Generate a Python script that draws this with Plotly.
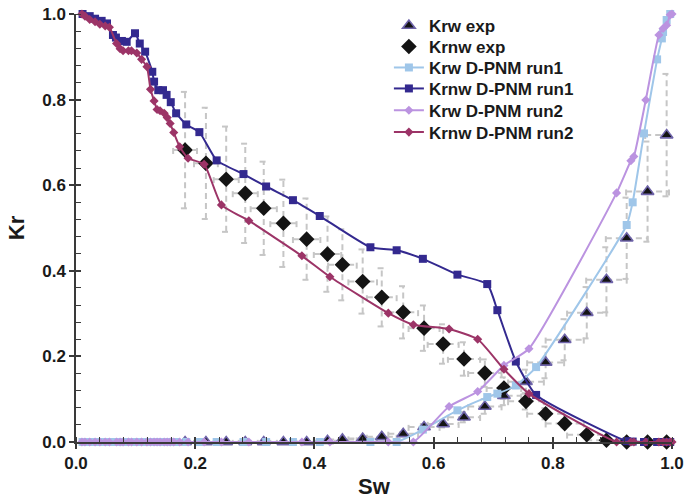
import plotly.graph_objects as go

# ---------------- data ----------------
sw_exp = [0.183, 0.218, 0.252, 0.284, 0.315, 0.348, 0.387, 0.422, 0.447, 0.481, 0.513, 0.549, 0.584,
          0.616, 0.651, 0.686, 0.718, 0.755, 0.788, 0.820, 0.857, 0.890, 0.924, 0.959, 0.991]
krw_exp = [0.0, 0.0, 0.0, 0.0, 0.0, 0.0, 0.0, 0.003, 0.006, 0.008, 0.012, 0.019, 0.035,
           0.042, 0.058, 0.083, 0.108, 0.141, 0.186, 0.239, 0.302, 0.379, 0.476, 0.585, 0.717]
krnw_exp = [0.682, 0.651, 0.614, 0.581, 0.546, 0.511, 0.474, 0.439, 0.414, 0.375, 0.338, 0.303, 0.266,
            0.229, 0.194, 0.161, 0.126, 0.095, 0.066, 0.043, 0.017, 0.004, 0.0, 0.0, 0.0]
# vertical (Kr) and horizontal (Sw) half-widths of the experimental error bars
krw_exp_err = [0.0, 0.0, 0.0, 0.0, 0.0, 0.0, 0.0, 0.001, 0.001, 0.002, 0.002, 0.004, 0.007,
               0.008, 0.012, 0.017, 0.022, 0.028, 0.037, 0.048, 0.060, 0.076, 0.095, 0.117, 0.143]
krnw_exp_err = [0.136, 0.130, 0.123, 0.116, 0.109, 0.102, 0.095, 0.088, 0.083, 0.075, 0.068, 0.061, 0.053,
                0.046, 0.039, 0.032, 0.025, 0.019, 0.013, 0.009, 0.003, 0.001, 0.0, 0.0, 0.0]
sw_exp_err = [0.020, 0.020, 0.021, 0.021, 0.022, 0.022, 0.023, 0.023, 0.024, 0.024, 0.025, 0.025, 0.026,
              0.026, 0.027, 0.028, 0.029, 0.030, 0.031, 0.032, 0.033, 0.034, 0.035, 0.036, 0.036]

sw_run1 = [0.011, 0.023, 0.032, 0.043, 0.052, 0.062, 0.067, 0.077, 0.085, 0.099, 0.107, 0.116, 0.128,
           0.131, 0.138, 0.146, 0.152, 0.159, 0.168, 0.185, 0.207, 0.236, 0.281, 0.319, 0.364, 0.409,
           0.494, 0.538, 0.582, 0.640, 0.690, 0.707, 0.738, 0.772, 0.924, 0.934, 0.953, 0.975, 0.983,
           0.985, 0.991, 0.997]
krnw_run1 = [1.0, 0.995, 0.989, 0.984, 0.978, 0.951, 0.945, 0.937, 0.935, 0.955, 0.931, 0.912, 0.865,
             0.842, 0.822, 0.822, 0.811, 0.794, 0.768, 0.742, 0.724, 0.658, 0.626, 0.597, 0.565, 0.528,
             0.455, 0.448, 0.428, 0.391, 0.369, 0.308, 0.188, 0.110, 0.002, 0.001, 0.0, 0.0, 0.0,
             0.0, 0.0, 0.0]
krw_run1 = [0.0] * 28 + [0.029, 0.074, 0.105, 0.113, 0.132, 0.175, 0.507, 0.560, 0.721, 0.894, 0.943,
                         0.958, 0.986, 1.0]

sw_run2 = [0.010, 0.015, 0.023, 0.032, 0.040, 0.049, 0.056, 0.068, 0.074, 0.079, 0.088, 0.093, 0.102,
           0.110, 0.119, 0.125, 0.131, 0.136, 0.141, 0.148, 0.153, 0.158, 0.164, 0.174, 0.188, 0.215,
           0.244, 0.290, 0.379, 0.426, 0.524, 0.566, 0.626, 0.674, 0.718, 0.760, 0.907, 0.931, 0.936,
           0.956, 0.978, 0.985, 0.991, 0.997, 1.0]
krnw_run2 = [1.0, 0.995, 0.987, 0.982, 0.976, 0.972, 0.969, 0.931, 0.919, 0.914, 0.914, 0.914, 0.909,
             0.894, 0.877, 0.824, 0.797, 0.777, 0.774, 0.768, 0.758, 0.744, 0.723, 0.690, 0.663, 0.649,
             0.554, 0.517, 0.435, 0.386, 0.301, 0.274, 0.264, 0.240, 0.170, 0.113, 0.0, 0.0, 0.0,
             0.0, 0.0, 0.0, 0.0, 0.0, 0.0]
krw_run2 = [0.0] * 32 + [0.083, 0.118, 0.179, 0.218, 0.582, 0.657, 0.667, 0.799, 0.951, 0.966,
                         0.974, 0.998, 1.0]

x_ticks = [0.0, 0.2, 0.4, 0.6, 0.8, 1.0]
y_ticks = [0.0, 0.2, 0.4, 0.6, 0.8, 1.0]

# ---------------- styles ----------------
FONT = "Liberation Sans, Arial, Helvetica, sans-serif"
C_LB = "#9fc6e9"
C_DB = "#33298f"
C_LAV = "#bb93e0"
C_MAR = "#9c3467"
C_TRI_EDGE = "#6f64aa"
C_ERR = "#c6c6c6"
CAP_W = 0.007
CAP_H = 0.009
LEG_X = 0.525
LEG_Y = [0.972, 0.923, 0.874, 0.825, 0.774, 0.723]
LEG_IDS = ["legend", "legend2", "legend3", "legend4", "legend5", "legend6"]


def err_segments(xs, ys, exs, eys):
    X, Y = [], []
    for x, y, ex, ey in zip(xs, ys, exs, eys):
        if ey > 0.002:
            X += [x, x, None, x - CAP_W, x + CAP_W, None, x - CAP_W, x + CAP_W, None]
            Y += [y - ey, y + ey, None, y - ey, y - ey, None, y + ey, y + ey, None]
        X += [x - ex, x + ex, None, x - ex, x - ex, None, x + ex, x + ex, None]
        Y += [y, y, None, y - CAP_H, y + CAP_H, None, y - CAP_H, y + CAP_H, None]
    return X, Y


fig = go.Figure()

for ys, eys in [(krw_exp, krw_exp_err), (krnw_exp, krnw_exp_err)]:
    ex, ey = err_segments(sw_exp, ys, sw_exp_err, eys)
    fig.add_trace(go.Scatter(x=ex, y=ey, mode="lines", showlegend=False, hoverinfo="skip",
                             line=dict(color=C_ERR, width=2, dash="6px,4px")))

fig.add_trace(go.Scatter(x=sw_exp, y=krw_exp, mode="markers", name="Krw exp", legend=LEG_IDS[0],
                         cliponaxis=False,
                         marker=dict(symbol="triangle-up", size=11, color="#141414",
                                     line=dict(color=C_TRI_EDGE, width=1.6))))
fig.add_trace(go.Scatter(x=sw_exp, y=krnw_exp, mode="markers", name="Krnw exp", legend=LEG_IDS[1],
                         cliponaxis=False,
                         marker=dict(symbol="diamond", size=12, color="#141414")))

runs = [
    (sw_run1, krw_run1, "Krw D-PNM run1", C_LB, "square", 8, 2),
    (sw_run1, krnw_run1, "Krnw D-PNM run1", C_DB, "square", 8, 3),
    (sw_run2, krw_run2, "Krw D-PNM run2", C_LAV, "diamond", 7, 4),
    (sw_run2, krnw_run2, "Krnw D-PNM run2", C_MAR, "diamond", 7, 5),
]
for xs, ys, name, col, sym, sz, li in runs:
    fig.add_trace(go.Scatter(x=xs, y=ys, mode="lines+markers", name=name, legend=LEG_IDS[li],
                             cliponaxis=False,
                             line=dict(color=col, width=2, shape="spline", smoothing=0.5),
                             marker=dict(symbol=sym, size=sz, color=col)))

axis_common = dict(
    range=[0, 1], showgrid=False, zeroline=False, showline=True, linecolor="#3a3a3a", linewidth=1.5,
    ticks="outside", ticklen=5, tickwidth=1.5, tickcolor="#3a3a3a", tickformat=".1f",
    automargin=False,
    tickfont=dict(family=FONT, size=17, color="#1a1a1a", weight="bold"),
    minor=dict(ticks="inside", dtick=0.04, ticklen=5, tickwidth=1.2, tickcolor="#3a3a3a"),
)

legend_layouts = {}
for lid, ly in zip(LEG_IDS, LEG_Y):
    legend_layouts[lid] = dict(x=LEG_X, y=ly, xanchor="left", yanchor="middle",
                               bgcolor="rgba(0,0,0,0)", borderwidth=0,
                               font=dict(family=FONT, size=17, color="#1a1a1a", weight="bold"))

fig.update_layout(
    width=684, height=502,
    margin=dict(l=76, r=12, t=14, b=60, autoexpand=False),
    paper_bgcolor="white", plot_bgcolor="white",
    font=dict(family=FONT, color="#1a1a1a"),
    xaxis=dict(**axis_common, tickvals=x_ticks,
               title=dict(text="Sw", font=dict(family=FONT, size=22, color="#1a1a1a", weight="bold"),
                          standoff=6)),
    yaxis=dict(**axis_common, tickvals=y_ticks,
               title=dict(text="Kr", font=dict(family=FONT, size=22, color="#1a1a1a", weight="bold"),
                          standoff=12)),
    xaxis2=dict(range=[0, 1], overlaying="x", anchor="y", showgrid=False, zeroline=False,
                showline=False, ticks="inside", ticklen=5, tickwidth=1.5, tickcolor="#3a3a3a",
                tickvals=x_ticks, showticklabels=False, automargin=False),
    yaxis2=dict(range=[0, 1], overlaying="y", anchor="x", side="left", showgrid=False,
                zeroline=False, showline=False, ticks="inside", ticklen=5, tickwidth=1.5,
                tickcolor="#3a3a3a", tickvals=y_ticks, showticklabels=False, automargin=False),
    showlegend=True,
    **legend_layouts,
)
fig.add_trace(go.Scatter(x=[], y=[], xaxis="x2", yaxis="y2", showlegend=False))

fig.write_html("out.html")
